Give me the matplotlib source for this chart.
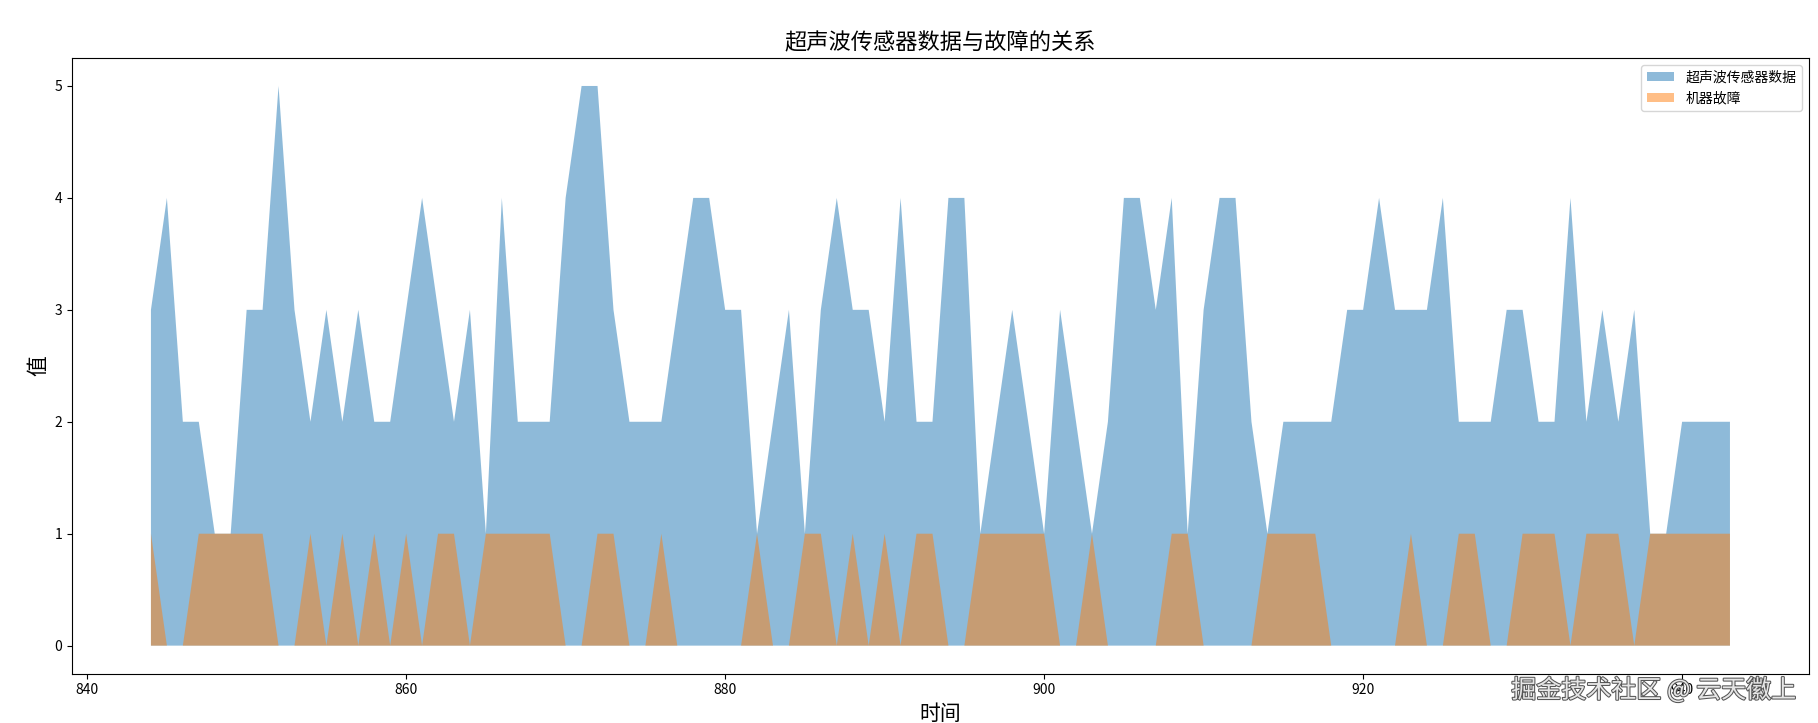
import numpy as np
import matplotlib
matplotlib.use('Agg')
import matplotlib.pyplot as plt
import matplotlib.patheffects as pe

plt.rcParams['font.family'] = ['Noto Sans CJK SC', 'DejaVu Sans']
plt.rcParams['axes.unicode_minus'] = False

# time index 844..943
time = list(range(844, 944))

sensor = [3, 4, 2, 2, 1, 1, 3, 3, 5, 3, 2, 3, 2, 3, 2, 2, 3, 4, 3, 2,
          3, 1, 4, 2, 2, 2, 4, 5, 5, 3, 2, 2, 2, 3, 4, 4, 3, 3, 1, 2,
          3, 1, 3, 4, 3, 3, 2, 4, 2, 2, 4, 4, 1, 2, 3, 2, 1, 3, 2, 1,
          2, 4, 4, 3, 4, 1, 3, 4, 4, 2, 1, 2, 2, 2, 2, 3, 3, 4, 3, 3,
          3, 4, 2, 2, 2, 3, 3, 2, 2, 4, 2, 3, 2, 3, 1, 1, 2, 2, 2, 2]

failure = [1, 0, 0, 1, 1, 1, 1, 1, 0, 0, 1, 0, 1, 0, 1, 0, 1, 0, 1, 1,
           0, 1, 1, 1, 1, 1, 0, 0, 1, 1, 0, 0, 1, 0, 0, 0, 0, 0, 1, 0,
           0, 1, 1, 0, 1, 0, 1, 0, 1, 1, 0, 0, 1, 1, 1, 1, 1, 0, 0, 1,
           0, 0, 0, 0, 1, 1, 0, 0, 0, 0, 1, 1, 1, 1, 0, 0, 0, 0, 0, 1,
           0, 0, 1, 1, 0, 0, 1, 1, 1, 0, 1, 1, 1, 0, 1, 1, 1, 1, 1, 1]

fig = plt.figure(figsize=(18.18, 7.23), dpi=100)
ax = fig.add_axes([0.0396, 0.0683, 0.9554, 0.8515])

ax.fill_between(time, sensor, alpha=0.5, label='超声波传感器数据')
ax.fill_between(time, failure, alpha=0.5, label='机器故障')

ax.set_title('超声波传感器数据与故障的关系', fontsize=16)
ax.set_xlabel('时间', fontsize=15)
ax.set_ylabel('值', fontsize=15)
ax.legend(loc='upper right')

# platform watermark, drawn over the last tick label like in the source image
fig.text(0.988, 0.045, '掘金技术社区 @ 云天徽上', ha='right', va='center',
         fontsize=18, color='#e6e6e6', zorder=10,
         path_effects=[pe.withStroke(linewidth=1.5, foreground='#555555')])

plt.savefig('out.png', dpi=100)
